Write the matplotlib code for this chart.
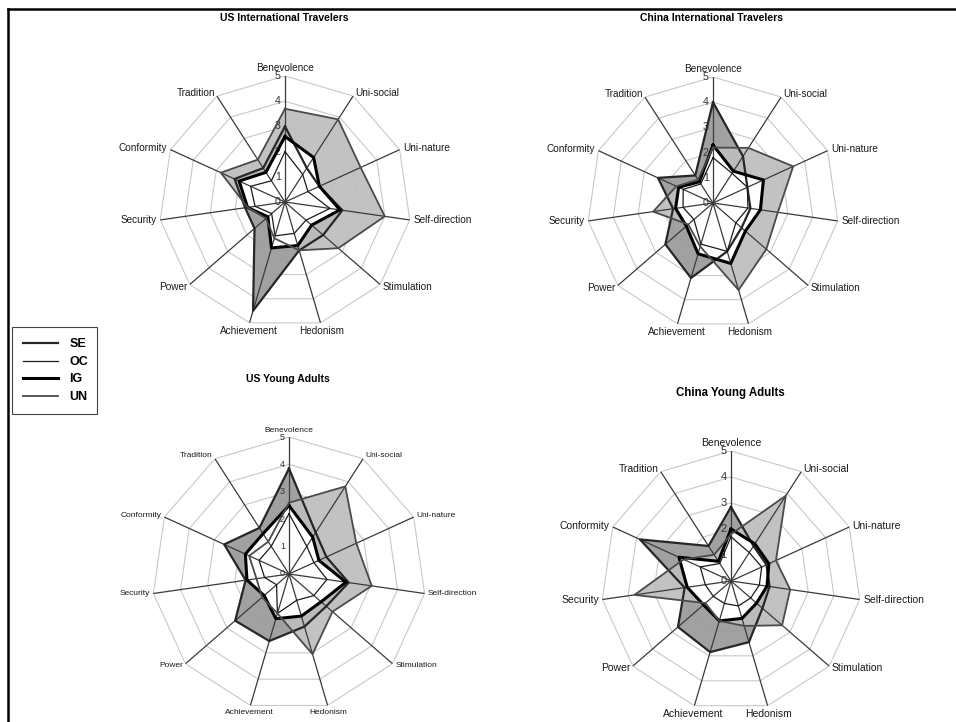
import numpy as np
import matplotlib
matplotlib.use("Agg")
import matplotlib.pyplot as plt
from matplotlib.lines import Line2D

plt.rcParams['font.family'] = ['Liberation Sans', 'DejaVu Sans']

# value dimensions, clockwise from the top spoke
categories = ['Benevolence', 'Uni-social', 'Uni-nature', 'Self-direction', 'Stimulation',
              'Hedonism', 'Achievement', 'Power', 'Security', 'Conformity', 'Tradition']
series_names = ['SE', 'OC', 'IG', 'UN']
scale_ticks = [0, 1, 2, 3, 4, 5]

# US International Travelers
us_intl_se = [3.0, 1.6, 1.5, 2.3, 2.0, 2.0, 4.5, 1.6, 1.6, 2.2, 1.6]
us_intl_oc = [2.0, 1.3, 1.0, 1.8, 1.1, 1.3, 1.4, 0.7, 1.2, 1.5, 1.0]
us_intl_ig = [2.6, 2.1, 1.5, 2.2, 1.4, 1.8, 1.9, 0.9, 1.5, 2.0, 1.4]
us_intl_un = [3.7, 3.9, 3.3, 4.0, 2.8, 2.0, 1.5, 1.0, 1.5, 2.8, 2.0]

# China International Travelers
cn_intl_se = [4.0, 2.2, 1.5, 1.5, 1.5, 2.0, 3.1, 2.5, 1.6, 2.4, 1.3]
cn_intl_oc = [1.8, 1.4, 1.5, 1.4, 1.2, 2.0, 1.7, 1.0, 1.2, 1.3, 0.9]
cn_intl_ig = [2.3, 1.5, 2.2, 1.9, 1.7, 2.5, 2.1, 1.4, 1.5, 1.5, 1.0]
cn_intl_un = [2.2, 2.6, 3.5, 2.6, 2.8, 3.6, 1.8, 1.3, 2.4, 1.6, 1.1]

# US Young Adults
us_young_se = [3.85, 1.8, 1.5, 2.2, 1.8, 2.0, 2.55, 2.6, 1.6, 2.6, 2.0]
us_young_oc = [2.2, 1.2, 1.0, 1.4, 1.2, 1.0, 1.5, 0.6, 0.9, 1.2, 1.2]
us_young_ig = [2.5, 1.6, 1.2, 2.1, 1.55, 1.6, 1.7, 1.2, 1.55, 1.75, 1.75]
us_young_un = [2.6, 3.8, 2.7, 3.05, 2.1, 3.05, 1.5, 1.3, 1.2, 1.6, 1.4]

# China Young Adults
cn_young_se = [2.85, 1.6, 1.5, 1.5, 1.6, 2.45, 2.85, 2.7, 1.8, 3.85, 1.6]
cn_young_oc = [1.7, 1.3, 1.3, 1.1, 1.0, 1.0, 0.9, 0.9, 1.0, 1.3, 0.8]
cn_young_ig = [2.0, 1.7, 1.6, 1.4, 1.3, 1.5, 1.6, 1.4, 1.7, 2.2, 0.9]
cn_young_un = [1.8, 3.9, 1.9, 2.3, 2.6, 1.8, 1.6, 1.3, 3.75, 2.0, 1.2]

W, H = 956, 722
fig = plt.figure(figsize=(W / 100, H / 100), dpi=100)

n = len(categories)
angles = np.linspace(0, 2 * np.pi, n, endpoint=False)
closed = np.append(angles, angles[0])


def close(v):
    return np.append(v, v[0])


fills = {'SE': '#9a9a9a', 'UN': '#bebebe', 'IG': 'white', 'OC': 'white'}
edges = {'SE': ('#262626', 1.6), 'OC': ('#1a1a1a', 0.9),
         'IG': ('black', 2.2), 'UN': ('#4a4a4a', 1.3)}


def radar(cx, cy, R, label_size, data):
    ax = fig.add_axes([(cx - R) / W, (H - cy - R) / H, 2 * R / W, 2 * R / H],
                      projection='polar')
    ax.set_theta_zero_location('N')
    ax.set_theta_direction(-1)
    ax.set_ylim(0, 5)
    ax.grid(False)
    ax.set_xticks([])
    ax.set_yticks([])
    ax.spines['polar'].set_visible(False)
    ax.patch.set_visible(False)

    # polygon grid
    for lv in scale_ticks[1:]:
        ax.plot(closed, [lv] * (n + 1), color='#c8c8c8', lw=0.8, zorder=1)

    # filled areas, back to front
    for key in ['SE', 'UN', 'IG', 'OC']:
        ax.fill(closed, close(data[key]), facecolor=fills[key], edgecolor='none',
                alpha=0.93 if key in ('SE', 'UN') else 1, zorder=2)

    for t in scale_ticks:
        ax.annotate(str(t), xy=(0, t), xytext=(-3, 0), textcoords='offset points',
                    ha='right', va='center', fontsize=label_size + 0.5,
                    color='#333333', zorder=2.5)

    for a in angles:
        ax.plot([a, a], [0, 5], color='#3a3a3a', lw=0.9, zorder=3)

    handles = []
    for key in series_names:
        col, lw = edges[key]
        ln, = ax.plot(closed, close(data[key]), color=col, lw=lw, zorder=4)
        handles.append(ln)

    for a, cat in zip(angles, categories):
        s, c = np.sin(a), np.cos(a)
        if c > 0.99:
            ha, va = 'center', 'bottom'
        elif c < -0.9:
            ha, va = 'center', 'top'
        else:
            ha, va = ('left' if s > 0 else 'right'), 'center'
        ax.annotate(cat, xy=(a, 5), xytext=(2.5 * s, 2.5 * c), textcoords='offset points',
                    ha=ha, va=va, fontsize=label_size, color='#1a1a1a')
    return handles


handles = radar(285, 202, 126, 7.2, {'SE': us_intl_se, 'OC': us_intl_oc,
                                     'IG': us_intl_ig, 'UN': us_intl_un})
radar(713, 203, 126, 7.2, {'SE': cn_intl_se, 'OC': cn_intl_oc,
                           'IG': cn_intl_ig, 'UN': cn_intl_un})
radar(289, 574, 137, 6.0, {'SE': us_young_se, 'OC': us_young_oc,
                           'IG': us_young_ig, 'UN': us_young_un})
radar(731, 581, 130, 7.5, {'SE': cn_young_se, 'OC': cn_young_oc,
                           'IG': cn_young_ig, 'UN': cn_young_un})

fig.text(284 / W, 1 - 18 / H, 'US International Travelers', ha='center', va='center',
         fontsize=7.5, fontweight='bold')
fig.text(712 / W, 1 - 18 / H, 'China International Travelers', ha='center', va='center',
         fontsize=7.5, fontweight='bold')
fig.text(288 / W, 1 - 379 / H, 'US Young Adults', ha='center', va='center',
         fontsize=7.5, fontweight='bold')
fig.text(730 / W, 1 - 393 / H, 'China Young Adults', ha='center', va='center',
         fontsize=8.3, fontweight='bold')

leg = fig.legend(handles, series_names, loc='upper left',
                 bbox_to_anchor=(12 / W, 1 - 327 / H, 85 / W, 0), mode='expand',
                 frameon=True, fancybox=False, edgecolor='#444444', framealpha=1,
                 prop={'weight': 'bold', 'size': 9}, handlelength=2.8,
                 handletextpad=0.9, labelspacing=0.45, borderpad=0.9, borderaxespad=0)
leg.get_frame().set_linewidth(0.8)

# outer frame, top and left edges
fig.add_artist(Line2D([8 / W, 1], [1 - 9 / H, 1 - 9 / H], transform=fig.transFigure,
                      color='black', lw=1.8))
fig.add_artist(Line2D([8 / W, 8 / W], [0, 1 - 9 / H], transform=fig.transFigure,
                      color='black', lw=1.8))

fig.savefig('out.png', dpi=100)
